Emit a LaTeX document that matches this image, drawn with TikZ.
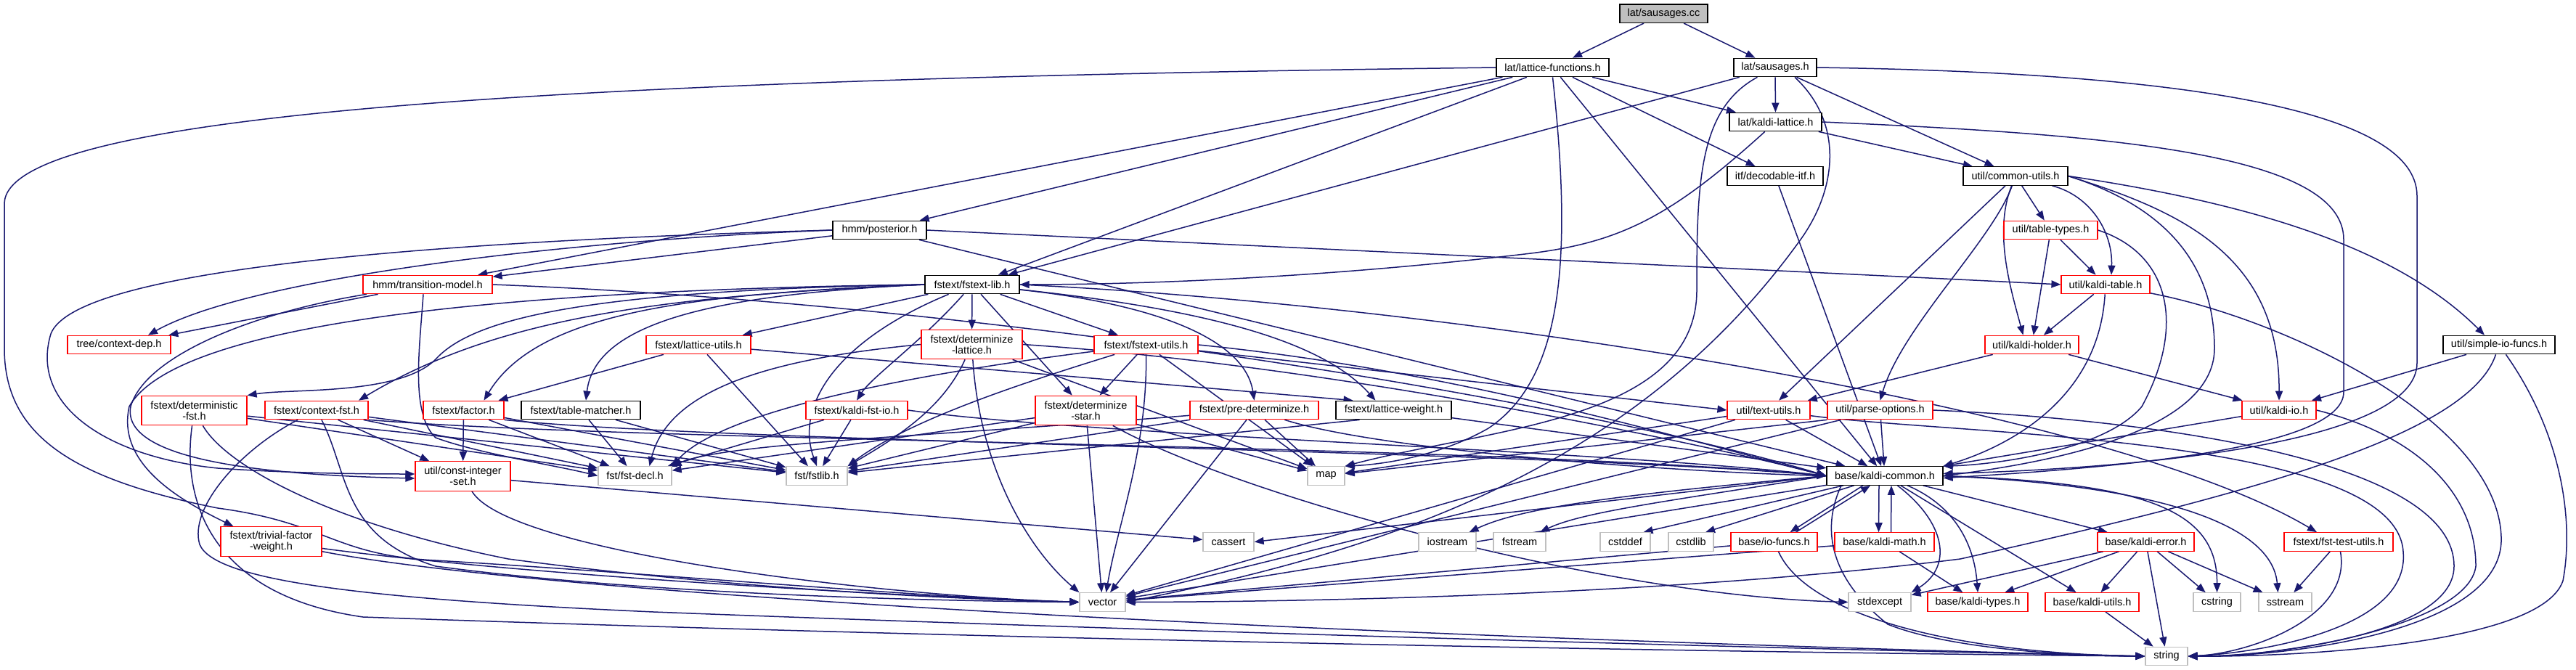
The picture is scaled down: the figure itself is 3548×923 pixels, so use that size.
\documentclass[tikz,border=0pt]{standalone}
\usepackage{fontspec}
\setmainfont{Liberation Sans}
\usetikzlibrary{arrows.meta,backgrounds}
\definecolor{navy}{HTML}{191970}
\definecolor{grey75}{HTML}{BFBFBF}
\tikzset{
 bx/.style={rectangle, inner sep=0pt, minimum height=25.5pt, align=center, line width=1.2pt, text=black, fill=white},
 nb/.style={bx, draw=black},
 nr/.style={bx, draw=red},
 ng/.style={bx, draw=grey75},
 two/.style={minimum height=40.5pt},
 dep/.style={draw=navy, line width=1.5pt, -{Triangle[length=13pt,width=10pt]}},
}
\begin{document}
\begin{tikzpicture}[x=1pt,y=-1pt,font=\fontsize{14.5pt}{15pt}\selectfont]
\useasboundingbox (0,0) rectangle (3548,923);
% nodes
\node[nb,fill=grey75,minimum width=121pt] (sc) at (2291.5,18.7) {lat/sausages.cc};
\node[nb,minimum width=155pt] (lf) at (2138.5,93) {lat/lattice-functions.h};
\node[nb,minimum width=114pt] (sh) at (2445,93) {lat/sausages.h};
\node[nb,minimum width=127pt] (kl) at (2445.5,168) {lat/kaldi-lattice.h};
\node[nb,minimum width=132pt] (di) at (2445,242.5) {itf/decodable-itf.h};
\node[nb,minimum width=144pt] (cu) at (2776,242.5) {util/common-utils.h};
\node[nb,minimum width=129pt] (po) at (1211.5,317) {hmm/posterior.h};
\node[nr,minimum width=129pt] (tt) at (2824.5,317) {util/table-types.h};
\node[nr,minimum width=178pt] (tm) at (589,392) {hmm/transition-model.h};
\node[nb,minimum width=130pt] (fl) at (1339,392) {fstext/fstext-lib.h};
\node[nr,minimum width=122pt] (kt) at (2900,392) {util/kaldi-table.h};
\node[nr,minimum width=142pt] (cd) at (164,475) {tree/context-dep.h};
\node[nr,minimum width=144pt] (lu) at (962,475) {fstext/lattice-utils.h};
\node[nr,two,minimum width=139pt] (dl) at (1338.5,474.5) {fstext/determinize\\-lattice.h};
\node[nr,minimum width=143pt] (fu) at (1578.5,475) {fstext/fstext-utils.h};
\node[nr,minimum width=129pt] (kh) at (2798.5,475) {util/kaldi-holder.h};
\node[nb,minimum width=154pt] (sio) at (3442,475) {util/simple-io-funcs.h};
\node[nr,two,minimum width=145pt] (dfst) at (267.5,565.5) {fstext/deterministic\\-fst.h};
\node[nr,minimum width=142pt] (cf) at (436,565) {fstext/context-fst.h};
\node[nr,minimum width=111pt] (fa) at (638.5,565) {fstext/factor.h};
\node[nb,minimum width=164pt] (tmt) at (800,565) {fstext/table-matcher.h};
\node[nr,minimum width=140pt] (kfi) at (1180,565) {fstext/kaldi-fst-io.h};
\node[nr,two,minimum width=139pt] (ds) at (1495.5,565.5) {fstext/determinize\\-star.h};
\node[nr,minimum width=177pt] (pd) at (1727.5,565) {fstext/pre-determinize.h};
\node[nb,minimum width=159pt] (lw) at (1919.5,565) {fstext/lattice-weight.h};
\node[nr,minimum width=114pt] (tu) at (2436,565) {util/text-utils.h};
\node[nr,minimum width=145pt] (pao) at (2589.5,565) {util/parse-options.h};
\node[nr,minimum width=102pt] (kio) at (3139,565) {util/kaldi-io.h};
\node[nr,two,minimum width=131pt] (cis) at (637.5,656) {util/const-integer\\-set.h};
\node[ng,minimum width=101pt] (fd) at (874.5,655.5) {fst/fst-decl.h};
\node[ng,minimum width=84pt] (fsl) at (1125,655.5) {fst/fstlib.h};
\node[ng,minimum width=51pt] (mp) at (1826.5,655.5) {map};
\node[nb,minimum width=160pt] (kc) at (2596,655.5) {base/kaldi-common.h};
\node[nr,two,minimum width=139pt] (tfw) at (373.5,746) {fstext/trivial-factor\\-weight.h};
\node[ng,minimum width=70pt] (ca) at (1692,746.5) {cassert};
\node[ng,minimum width=79pt] (ios) at (1993.5,746.5) {iostream};
\node[ng,minimum width=72pt] (fs) at (2093,746.5) {fstream};
\node[ng,minimum width=69pt] (cdf) at (2238.5,746.5) {cstddef};
\node[ng,minimum width=62pt] (csl) at (2329,746.5) {cstdlib};
\node[nr,minimum width=119pt] (iof) at (2443.5,746.5) {base/io-funcs.h};
\node[nr,minimum width=137pt] (km) at (2595.5,746.5) {base/kaldi-math.h};
\node[nr,minimum width=133pt] (ke) at (2955.5,746.5) {base/kaldi-error.h};
\node[nr,minimum width=150pt] (ftu) at (3221,746.5) {fstext/fst-test-utils.h};
\node[ng,minimum width=63pt] (ve) at (1518.5,829.5) {vector};
\node[ng,minimum width=86pt] (se) at (2589,829.5) {stdexcept};
\node[nr,minimum width=138pt] (kty) at (2724,829.5) {base/kaldi-types.h};
\node[nr,minimum width=129pt] (ku) at (2881.5,829.5) {base/kaldi-utils.h};
\node[ng,minimum width=65pt] (cst) at (3053.5,829.5) {cstring};
\node[ng,minimum width=73pt] (ss) at (3147.5,829.5) {sstream};
\node[ng,minimum width=58pt] (st) at (2984,904) {string};

\begin{pgfonlayer}{background}
\fill[white] (0,0) rectangle (3548,923);
% sausages.cc
\draw[dep] (sc) -- (lf);
\draw[dep] (sc) -- (sh);
% lattice-functions
\draw[dep] (lf.west) .. controls (700,110) and (10,160) .. (6,280) -- (6,480) .. controls (6,600) and (100,660) .. (300,700) .. controls (450,720) and (460,765) .. (600,772) .. controls (900,790) and (1300,825) .. (ve.west);
\draw[dep] (lf.south) .. controls (2165,350) and (2155,520) .. (2050,590) .. controls (1980,630) and (1900,640) .. (mp.north east);
\draw[dep] (lf) -- (kc);
\draw[dep] (lf) -- (po);
\draw[dep] (lf) -- (fl);
\draw[dep] (lf) -- (tm);
\draw[dep] (lf) -- (kl);
\draw[dep] (lf) -- (di);
% sausages.h
\draw[dep] ([xshift=27pt]sh.south) .. controls (2540,170) and (2530,260) .. (2480,330) .. controls (2250,650) and (1900,760) .. (ve.east);
\draw[dep] (sh) .. controls (2340,150) and (2337,250) .. (2337,400) .. controls (2337,580) and (2050,590) .. (mp.north east);
\draw[dep] (sh.east) .. controls (3000,100) and (3329,150) .. (3329,270) -- (3329,500) .. controls (3329,610) and (2950,645) .. ([yshift=3pt]kc.east);
\draw[dep] (sh) -- (cu);
\draw[dep] (sh) -- (fl);
\draw[dep] (sh) -- (kl);
% kaldi-lattice
\draw[dep] (kl) .. controls (2300,300) and (2230,335) .. (2100,350) .. controls (1800,385) and (1550,392) .. (fl.east);
\draw[dep] (kl.east) .. controls (2900,185) and (3228,210) .. (3228,330) -- (3228,540) .. controls (3228,620) and (2900,645) .. ([yshift=-3pt]kc.east);
\draw[dep] (kl) -- (cu);
\draw[dep] (di) -- (kc);
% posterior
\draw[dep] (po) -- (kc);
\draw[dep] (po.west) .. controls (800,330) and (350,380) .. ([xshift=40pt]cd.north);
\draw[dep] (po) -- (tm);
\draw[dep] (po.west) .. controls (500,335) and (100,380) .. (70,460) .. controls (40,560) and (150,630) .. (300,645) .. controls (400,652) and (500,653) .. ([yshift=3pt]cis.west);
\draw[dep] (po.east) .. controls (1800,342) and (2500,375) .. (kt.west);
% transition-model
\draw[dep] (tm.east) .. controls (1400,420) and (2200,560) .. (kc.west);
\draw[dep] (tm) -- (cd);
\draw[dep] (tm) .. controls (350,430) and (200,490) .. (180,560) .. controls (165,640) and (400,655) .. ([yshift=-3pt]cis.west);
\draw[dep] ([xshift=-6pt]tm.south) .. controls (578,480) and (565,570) .. (600,603) .. controls (660,625) and (760,640) .. (fd.west);
% fstext-lib
\draw[dep] (fl) .. controls (1150,470) and (1095,560) .. (fsl.north);
\draw[dep] (fl) -- (lu);
\draw[dep] (fl) -- (dl);
\draw[dep] (fl) -- (fu);
\draw[dep] (fl) .. controls (1270,470) and (1200,520) .. (kfi.north);
\draw[dep] (fl) -- (ds);
\draw[dep] (fl) .. controls (1600,420) and (1715,470) .. (pd.north);
\draw[dep] (fl) .. controls (1700,430) and (1830,480) .. ([xshift=-25pt]lw.north);
\draw[dep] (fl.east) .. controls (2000,420) and (2900,560) .. ([xshift=-30pt]ftu.north);
\draw[dep] (fl.west) .. controls (1000,405) and (820,440) .. ([xshift=7pt]tmt.north);
\draw[dep] (fl.west) .. controls (950,405) and (740,430) .. ([xshift=28pt]fa.north);
\draw[dep] (fl.west) .. controls (900,408) and (680,440) .. ([xshift=58pt]cf.north);
\draw[dep] (fl.west) .. controls (800,400) and (650,440) .. (600,495) .. controls (550,545) and (400,535) .. (dfst.north east);
\draw[dep] (fl.west) .. controls (650,400) and (240,450) .. (178,560) .. controls (160,640) and (250,690) .. ([xshift=-52pt]tfw.north);
% lattice-utils
\draw[dep] (lu) -- (fsl);
\draw[dep] (lu) -- ([xshift=-56pt]lw.north);
\draw[dep] (lu) -- (fa);
% determinize-lattice
\draw[dep] (dl.west) .. controls (1050,495) and (920,540) .. ([xshift=20pt]fd.north);
\draw[dep] (dl) .. controls (1300,560) and (1240,600) .. (fsl.north east);
\draw[dep] (dl) .. controls (1350,650) and (1420,760) .. (ve.north west);
\draw[dep] (dl) -- (mp);
\draw[dep] (dl.east) .. controls (1800,500) and (2300,600) .. (kc.west);
% fstext-utils
\draw[dep] (fu) .. controls (1300,510) and (1000,560) .. (fd.north east);
\draw[dep] (fu) .. controls (1400,530) and (1250,580) .. (fsl.north east);
\draw[dep] (fu) -- (ds);
\draw[dep] (fu) .. controls (1580,620) and (1540,720) .. ([xshift=5pt]ve.north);
\draw[dep] (fu) -- (mp);
\draw[dep] (fu.east) .. controls (2000,510) and (2300,600) .. (kc.west);
\draw[dep] (fu) -- (tu.west);
% kaldi-fst-io
\draw[dep] (kfi) -- (fd);
\draw[dep] (kfi) -- (fsl);
\draw[dep] (kfi.east) .. controls (1500,600) and (2200,620) .. (kc.west);
% determinize-star
\draw[dep] (ds) -- (fd);
\draw[dep] (ds) -- (fsl);
\draw[dep] (ds) -- (ve);
\draw[dep] (ds) -- (mp);
\draw[dep] (ds) .. controls (1700,680) and (2200,820) .. (se.west);
% pre-determinize
\draw[dep] (pd) .. controls (1300,600) and (1000,610) .. (fd.north east);
\draw[dep] (pd) -- (fsl);
\draw[dep] (pd) -- (ve);
\draw[dep] (pd) -- (mp);
\draw[dep] (pd) .. controls (1900,620) and (2300,650) .. (kc.west);
% lattice-weight
\draw[dep] ([xshift=-47pt]lw.south) -- (fsl);
\draw[dep] (lw) -- (kc);
% text-utils
\draw[dep] (tu) -- (mp);
\draw[dep] (tu) -- (ve);
\draw[dep] (tu) -- (kc);
\draw[dep] (tu) .. controls (2700,600) and (3300,600) .. (3310,760) .. controls (3320,870) and (3100,900) .. (st.east);
% parse-options
\draw[dep] (pao.south west) -- (mp);
\draw[dep] (pao) -- (ve);
\draw[dep] (pao) -- (kc);
\draw[dep] (pao.east) .. controls (3000,580) and (3380,640) .. (3380,780) .. controls (3380,880) and (3100,905) .. (st.east);
% common-utils
\draw[dep] (cu) -- (tu);
\draw[dep] (cu) .. controls (2745,330) and (2620,450) .. (pao.north);
\draw[dep] (cu) -- (tt);
\draw[dep] (cu) .. controls (2745,320) and (2770,400) .. ([xshift=-12pt]kh.north);
\draw[dep] (cu) .. controls (2880,270) and (2910,320) .. ([xshift=8pt]kt.north);
\draw[dep] (cu.east) .. controls (3000,290) and (3050,380) .. (3050,480) .. controls (3050,600) and (2800,640) .. (kc.east);
\draw[dep] (cu.east) .. controls (3000,290) and (3140,350) .. (kio.north);
\draw[dep] (cu.east) .. controls (3100,280) and (3300,340) .. ([xshift=-20pt]sio.north);
% table-types
\draw[dep] (tt) -- (kt);
\draw[dep] (tt) -- (kh);
\draw[dep] (tt.east) .. controls (2990,350) and (3010,450) .. (2950,560) .. controls (2900,620) and (2750,640) .. (kc.north east);
% kaldi-table
\draw[dep] (kt) -- (kh);
\draw[dep] (kt) .. controls (2890,560) and (2750,620) .. (kc.north east);
\draw[dep] (kt) .. controls (3150,440) and (3440,580) .. (3445,740) .. controls (3450,870) and (3150,905) .. (st.east);
% kaldi-holder, kaldi-io, simple-io-funcs
\draw[dep] (kh) -- (tu);
\draw[dep] (kh) -- (kio);
\draw[dep] (kio) -- (kc);
\draw[dep] (kio.east) .. controls (3330,600) and (3410,680) .. (3410,780) .. controls (3400,860) and (3150,905) .. (st.east);
\draw[dep] (sio) -- (kio);
\draw[dep] (sio) .. controls (3400,600) and (3100,680) .. (2700,770) .. controls (2300,820) and (1800,829) .. (ve.east);
\draw[dep] (sio) .. controls (3530,600) and (3545,720) .. (3530,800) .. controls (3500,890) and (3150,905) .. (st.east);
% kaldi-common
\draw[dep] (kc.west) -- (ca.east);
\draw[dep] (kc.west) .. controls (2250,680) and (2100,697) .. ([xshift=30pt]ios.north);
\draw[dep] (kc.west) .. controls (2300,690) and (2180,705) .. ([xshift=28pt]fs.north);
\draw[dep] (kc) -- ([xshift=25pt]cdf.north);
\draw[dep] (kc) -- ([xshift=20pt]csl.north);
\draw[dep] ([xshift=-30pt]kc.south) -- ([xshift=22pt]iof.north);
\draw[dep] ([xshift=30pt]iof.north) -- ([xshift=-20pt]kc.south);
\draw[dep] ([xshift=-8pt]kc.south) -- ([xshift=-8pt]km.north);
\draw[dep] ([xshift=9pt]km.north) -- ([xshift=9pt]kc.south);
\draw[dep] (kc) -- (ke);
\draw[dep] (kc) .. controls (2700,700) and (2720,760) .. (kty.north);
\draw[dep] (kc) -- (ku);
\draw[dep] ([xshift=-60pt]kc.south) .. controls (2512,720) and (2512,790) .. (2600,860) .. controls (2700,900) and (2900,904) .. (st.west);
\draw[dep] (kc) -- (ve);
\draw[dep] (kc) .. controls (2680,720) and (2690,780) .. (se.north east);
\draw[dep] (kc.east) .. controls (2950,665) and (3054,700) .. (cst.north);
\draw[dep] (kc.east) .. controls (3000,670) and (3130,730) .. ([xshift=-10pt]ss.north);
% io-funcs, kaldi-math, kaldi-error, kaldi-utils, fst-test-utils
\draw[dep] (iof) -- (ve);
\draw[dep] (iof) .. controls (2490,850) and (2700,900) .. (st.west);
\draw[dep] (km) -- (ve);
\draw[dep] (km) -- (kty);
\draw[dep] (ke) -- (se);
\draw[dep] (ke) -- (kty);
\draw[dep] (ke) -- (ku);
\draw[dep] (ke) -- (st);
\draw[dep] (ke) -- (cst);
\draw[dep] (ke) -- (ss);
\draw[dep] (ku) -- (st);
\draw[dep] (ftu) -- (ss);
\draw[dep] (ftu) .. controls (3240,850) and (3100,900) .. (st.east);
% const-integer-set
\draw[dep] (cis) -- (ca);
\draw[dep] (cis) .. controls (700,760) and (1200,820) .. (ve.west);
% deterministic-fst
\draw[dep] (dfst) -- (fd);
\draw[dep] (dfst) -- (fsl);
\draw[dep] (dfst) .. controls (310,640) and (450,720) .. (700,770) .. controls (1000,810) and (1300,825) .. (ve.west);
\draw[dep] (dfst) .. controls (250,690) and (290,820) .. (500,850) .. controls (1500,885) and (2500,900) .. (st.west);
% context-fst
\draw[dep] (cf) -- (cis);
\draw[dep] (cf) -- (fd);
\draw[dep] (cf) -- (fsl);
\draw[dep] (cf.south east) .. controls (900,610) and (2000,610) .. (kc.west);
\draw[dep] (cf) .. controls (480,650) and (470,740) .. (600,780) .. controls (900,820) and (1300,828) .. (ve.west);
\draw[dep] (cf) .. controls (330,620) and (260,700) .. (275,750) .. controls (295,800) and (500,825) .. (900,843) .. controls (1600,870) and (2500,895) .. (st.west);
% factor
\draw[dep] (fa) -- (cis);
\draw[dep] (fa) -- (fd);
\draw[dep] (fa) -- (fsl);
\draw[dep] (fa.south east) .. controls (1000,610) and (2100,620) .. (kc.west);
% table-matcher
\draw[dep] (tmt) -- (fd);
\draw[dep] (tmt) -- (fsl);
% trivial-factor-weight
\draw[dep] (tfw) .. controls (700,790) and (1200,820) .. (ve.west);
\draw[dep] (tfw) .. controls (700,810) and (1600,870) .. (st.west);
\end{pgfonlayer}
\end{tikzpicture}
\end{document}
